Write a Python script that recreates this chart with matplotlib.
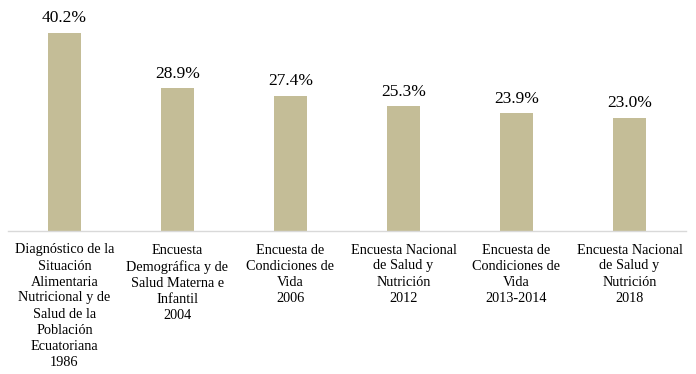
import matplotlib
matplotlib.use("Agg")
import matplotlib.pyplot as plt

categories = [
    "Diagnóstico de la\nSituación\nAlimentaria\nNutricional y de\nSalud de la\nPoblación\nEcuatoriana\n1986",
    "Encuesta\nDemográfica y de\nSalud Materna e\nInfantil\n2004",
    "Encuesta de\nCondiciones de\nVida\n2006",
    "Encuesta Nacional\nde Salud y\nNutrición\n2012",
    "Encuesta de\nCondiciones de\nVida\n2013-2014",
    "Encuesta Nacional\nde Salud y\nNutrición\n2018",
]
values = [40.2, 28.9, 27.4, 25.3, 23.9, 23.0]
value_labels = ["40.2%", "28.9%", "27.4%", "25.3%", "23.9%", "23.0%"]

plt.rcParams['font.family'] = ['Liberation Serif', 'DejaVu Serif']

fig = plt.figure(figsize=(6.96, 3.74), dpi=100)
ax = fig.add_axes([8/696, 143/374, 678/696, 227/374])

x = list(range(len(values)))
bars = ax.bar(x, values, width=0.3, color="#C4BD97")
for xi, v, lab in zip(x, values, value_labels):
    ax.text(xi, v + 1.3, lab, ha="center", va="bottom", fontsize=12.5, color="#000000")

ax.set_xlim(-0.5, len(values) - 0.5)
ax.set_ylim(0, 46)
ax.set_xticks(x)
ax.set_xticklabels(categories, fontsize=10.3, linespacing=1.3)
ax.tick_params(axis="x", length=0, pad=9)
ax.set_yticks([])
for s in ["top", "right", "left"]:
    ax.spines[s].set_visible(False)
ax.spines["bottom"].set_color("#D9D9D9")
ax.spines["bottom"].set_linewidth(1.0)

fig.savefig("out.png", dpi=100)
